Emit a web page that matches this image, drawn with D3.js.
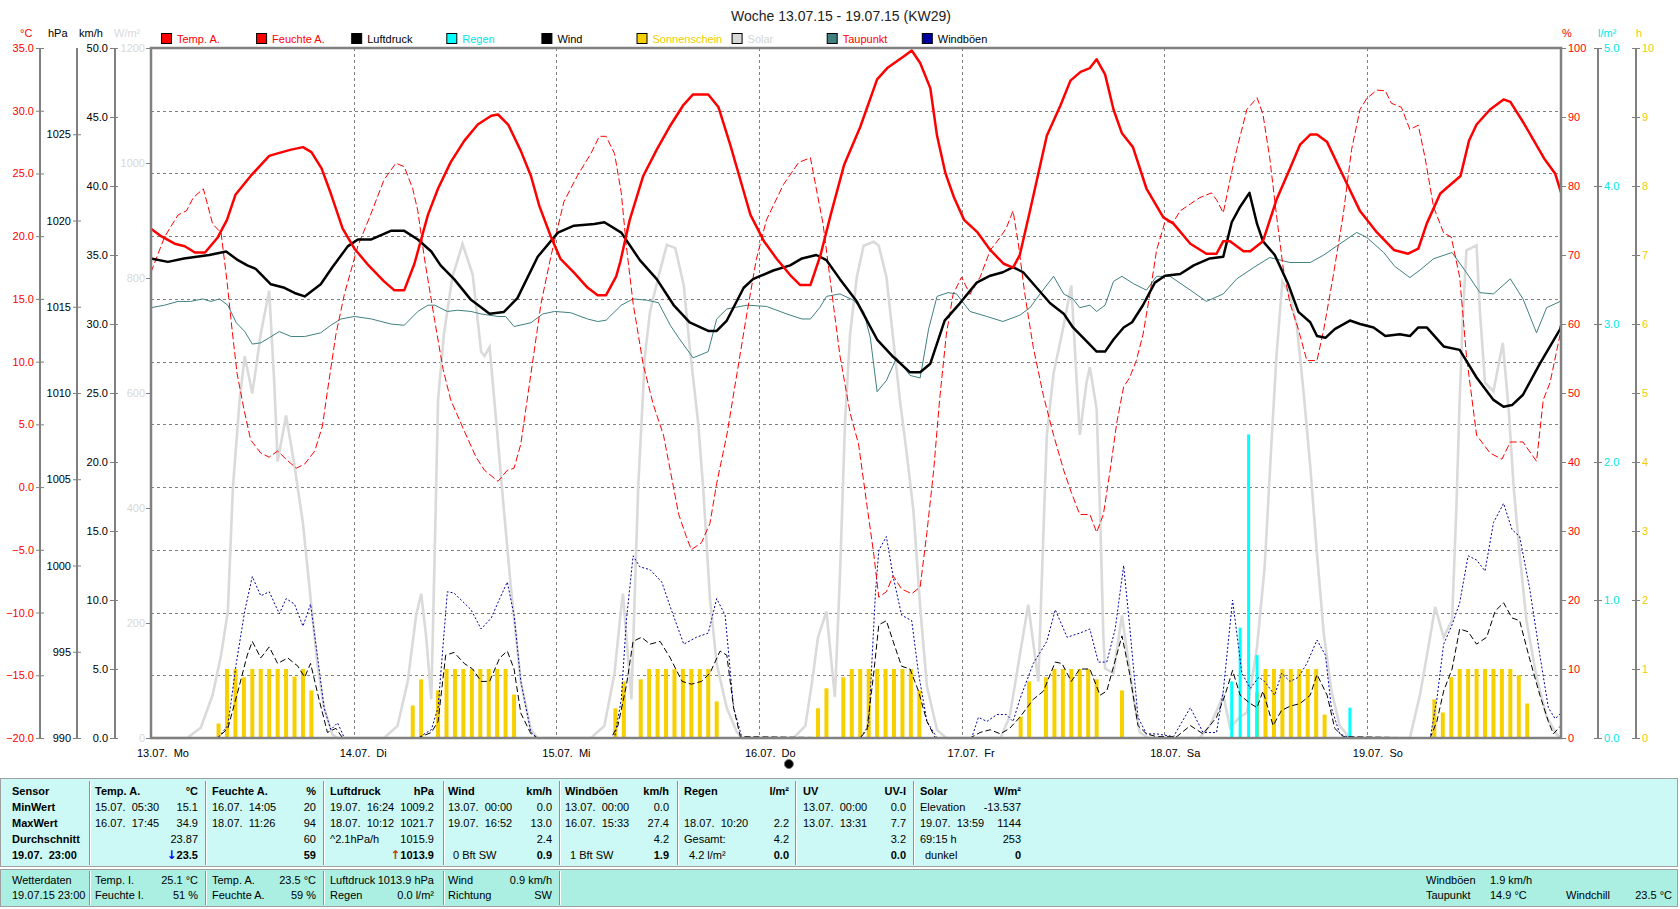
<!DOCTYPE html>
<meta charset="utf-8">
<script src="https://d3js.org/d3.v7.min.js"></script>
<style>
  body { margin: 0; background: #fff; }
  svg text { font-family: "Liberation Sans", Arial, sans-serif; font-size: 11px; }
</style>
<svg id="chart" width="1680" height="909"></svg>
<script>

// time = hours since 13.07.15 00:00
var temp = [[0,20.6],[1.2,20.0],[2.8,19.4],[4.0,19.2],[5.2,18.7],[6.4,18.7],[7.9,19.9],[9.0,21.3],[10.0,23.3],[11.8,24.8],[14.0,26.4],[15.0,26.6],[16.6,26.9],[18.0,27.1],[19.0,26.7],[20.2,25.4],[21.3,23.4],[22.7,20.6],[24.1,19.0],[25.6,17.8],[27.6,16.4],[28.8,15.7],[30.0,15.7],[31.2,17.8],[32.8,21.7],[34.0,23.8],[35.5,25.9],[37.1,27.6],[38.7,28.9],[40.3,29.6],[41.1,29.7],[42.3,28.9],[43.8,26.8],[45.0,24.8],[46.0,22.4],[47.4,19.9],[48.5,18.2],[50.1,17.1],[51.7,15.9],[52.9,15.3],[53.9,15.3],[55.1,16.8],[55.6,18.0],[56.7,21.3],[58.3,24.8],[59.9,26.9],[61.4,28.7],[63.0,30.4],[64.2,31.3],[66.0,31.3],[67.2,30.3],[68.6,27.3],[69.8,24.5],[71.0,21.7],[72.6,19.6],[74.1,18.2],[75.7,16.9],[76.9,16.1],[78.1,16.1],[79.3,18.5],[80.5,21.7],[82.1,25.7],[84.0,28.7],[86.0,32.5],[87.2,33.4],[89.1,34.3],[90.1,34.8],[91.1,33.8],[92.3,31.8],[93.1,28.0],[94.1,25.0],[95.1,23.1],[96.3,21.3],[97.9,20.3],[99.4,18.9],[101.0,17.8],[102.1,17.5],[102.9,18.5],[104.1,22.0],[106.1,28.0],[107.7,30.4],[108.9,32.4],[110.1,33.1],[111.2,33.4],[112.0,34.1],[113.0,32.9],[114.0,30.1],[115.0,28.2],[116.3,27.1],[117.9,23.8],[119.9,21.5],[121.1,21.0],[123.1,19.4],[125.0,18.6],[126.2,18.6],[127.0,19.6],[127.8,19.6],[129.4,18.8],[130.2,18.8],[131.7,19.6],[133.3,22.9],[134.9,25.4],[136.1,27.3],[137.3,28.1],[138.1,28.1],[139.3,27.5],[141.7,24.1],[143.2,22.0],[145.2,20.3],[147.2,18.9],[148.9,18.6],[150.1,19.0],[151.1,21.0],[152.7,23.4],[155.1,24.8],[156.1,27.6],[157.0,28.9],[158.6,30.1],[160.2,30.9],[161.0,30.7],[162.6,29.0],[165.0,26.2],[166.3,25.0],[167,23.5]];

var humidity = [[0,67.5],[1.6,72.6],[3.2,75.8],[4.2,76.4],[5.0,78.3],[6.2,79.6],[7.3,74.5],[8.3,73.2],[9.0,66.2],[9.6,59.2],[10.2,52.8],[11.0,47.7],[11.8,43.2],[13.0,41.3],[14.0,40.7],[15.0,41.6],[16.0,40.4],[17.2,39.1],[18.2,39.7],[19.4,41.6],[20.3,45.2],[20.9,50.3],[21.9,58.5],[22.9,64.3],[24.5,71.3],[26.0,75.8],[27.6,80.9],[29.0,83.3],[30.0,82.8],[31.0,79.6],[31.6,76.4],[32.4,69.4],[33.6,60.5],[34.6,53.4],[35.5,49.0],[37.1,44.5],[38.5,40.7],[39.5,38.8],[41.1,37.2],[42.2,38.8],[43.0,39.1],[43.8,42.6],[45.0,52.8],[46.2,63.0],[47.4,70.0],[48.9,77.7],[50.5,81.5],[52.1,84.7],[53.1,87.2],[53.9,87.2],[54.9,84.7],[55.7,79.0],[56.3,71.3],[57.1,63.0],[58.3,54.1],[59.5,48.3],[60.7,43.9],[61.5,38.8],[62.5,32.4],[63.4,29.2],[64.0,27.3],[65.2,28.3],[66.2,31.1],[67.0,36.9],[68.2,43.9],[69.4,52.8],[70.6,61.7],[71.7,69.4],[72.9,75.1],[74.9,80.2],[76.7,83.4],[78.1,84.1],[78.8,79.6],[79.6,74.5],[80.4,66.8],[81.6,55.4],[82.8,47.1],[83.8,42.6],[84.8,33.7],[85.6,26.7],[86.2,20.4],[87.1,21.2],[87.9,23.5],[88.9,21.6],[90.1,20.9],[91.1,21.9],[91.9,29.8],[92.7,38.8],[93.4,49.0],[94.2,58.5],[95.0,64.3],[96.0,66.8],[97.0,64.3],[98.2,66.8],[99.4,70.7],[100.6,72.6],[101.3,73.9],[102.1,76.4],[102.7,71.9],[103.5,64.3],[104.5,56.6],[105.7,49.6],[106.9,43.9],[108.1,38.8],[109.0,35.6],[110.0,32.4],[111.2,32.4],[112.0,29.8],[112.8,32.4],[113.6,38.8],[114.4,45.8],[115.2,50.9],[115.9,52.2],[116.7,54.7],[117.5,58.5],[118.3,64.3],[119.1,70.7],[120.1,74.8],[121.1,74.8],[121.9,76.4],[123.1,77.4],[124.2,78.3],[125.6,79.0],[126.2,78.0],[127.0,76.1],[127.8,80.9],[128.6,85.3],[129.8,91.1],[131.0,92.8],[131.7,90.4],[132.5,84.1],[133.3,75.8],[134.1,68.1],[134.9,63.0],[135.9,59.2],[136.9,54.7],[138.1,54.7],[138.9,59.2],[140.0,66.8],[141.2,75.8],[142.2,85.3],[143.2,91.1],[144.0,92.7],[145.2,93.9],[146.2,93.8],[146.9,92.0],[148.1,91.4],[149.1,88.2],[150.1,88.8],[150.9,84.1],[151.9,77.0],[153.1,73.2],[154.0,72.6],[155.0,66.8],[155.8,55.4],[157.0,43.9],[158.6,41.3],[160.0,40.4],[161.0,42.9],[162.5,42.9],[164.1,40.1],[164.9,49.0],[165.7,51.5],[166.9,58.5],[167,59]];

var pressure = [[0,1017.8],[2.0,1017.6],[3.9,1017.8],[6.9,1018.0],[8.9,1018.2],[10.3,1017.7],[11.4,1017.4],[12.4,1017.2],[14.2,1016.3],[15.8,1016.1],[17.0,1015.8],[18.2,1015.6],[20.1,1016.3],[21.5,1017.3],[23.3,1018.5],[24.5,1018.9],[26.1,1018.9],[28.4,1019.4],[30.0,1019.4],[31.6,1018.9],[33.2,1018.2],[34.3,1017.4],[35.9,1016.6],[37.9,1015.4],[40.1,1014.6],[41.8,1014.7],[43.4,1015.5],[45.8,1017.9],[48.2,1019.3],[50.1,1019.7],[52.5,1019.8],[53.7,1019.9],[55.7,1019.3],[57.9,1017.7],[59.9,1016.6],[61.9,1015.1],[63.8,1014.1],[66.0,1013.6],[67.0,1013.6],[68.2,1014.2],[70.2,1016.1],[71.3,1016.6],[73.7,1017.1],[75.7,1017.4],[77.1,1017.8],[78.8,1018.0],[80.0,1017.7],[81.6,1016.6],[83.6,1015.3],[84.8,1014.2],[86.0,1013.1],[87.9,1012.1],[89.9,1011.2],[91.1,1011.2],[92.3,1011.7],[94.0,1014.2],[95.8,1015.2],[97.8,1016.4],[99.4,1016.8],[100.9,1017.0],[102.1,1017.3],[103.3,1017.0],[104.9,1016.1],[106.5,1015.2],[108.1,1014.6],[109.2,1013.8],[111.2,1012.8],[112.0,1012.4],[113.0,1012.4],[114.0,1013.1],[115.2,1013.8],[116.2,1014.1],[117.5,1015.1],[118.9,1016.4],[120.1,1016.8],[121.9,1016.9],[123.5,1017.4],[125.4,1017.8],[127.0,1017.9],[128.0,1019.9],[129.0,1020.8],[130.1,1021.6],[131.0,1019.8],[131.7,1018.8],[133.1,1018.0],[134.7,1016.3],[135.9,1014.7],[137.3,1014.1],[138.1,1013.3],[139.1,1013.2],[140.2,1013.7],[142.0,1014.2],[143.2,1014.0],[144.8,1013.8],[146.2,1013.3],[147.9,1013.4],[149.1,1013.3],[150.1,1013.8],[151.1,1013.8],[153.1,1012.7],[155.0,1012.5],[157.0,1010.9],[159.0,1009.6],[160.2,1009.2],[161.2,1009.3],[162.5,1009.9],[164.5,1011.7],[166.9,1013.7],[167,1013.9]];

var dewpoint = [[0,14.3],[1.6,14.5],[3.2,14.8],[4.7,14.8],[6.1,15.0],[7.1,14.8],[8.1,15.0],[9.1,14.5],[10.1,13.1],[11.1,12.4],[12.0,11.4],[13.0,11.5],[14.0,11.9],[15.2,12.4],[16.6,12.0],[18.2,12.0],[20.1,12.3],[21.3,12.9],[22.5,13.4],[24.1,13.6],[26.1,13.4],[28.4,13.0],[30.0,12.9],[31.6,14.0],[32.8,14.5],[33.6,14.5],[35.1,14.0],[36.3,14.1],[37.9,14.0],[39.1,13.8],[41.1,13.6],[42.0,13.6],[43.0,12.8],[45.0,13.1],[46.4,13.8],[47.8,14.0],[49.7,13.9],[51.7,13.4],[52.9,13.2],[53.9,13.3],[55.7,14.5],[57.1,15.0],[58.7,14.9],[60.1,14.7],[61.5,12.9],[62.5,11.9],[64.2,10.3],[66.0,10.8],[67.0,13.4],[68.2,14.2],[70.6,14.5],[72.9,14.4],[75.3,13.8],[77.1,13.4],[78.1,13.4],[79.2,14.3],[80.0,15.2],[81.6,15.4],[83.2,14.9],[84.4,14.0],[85.2,11.9],[86.0,7.6],[87.1,8.5],[88.3,10.3],[89.9,8.9],[91.1,8.7],[92.1,12.6],[93.1,15.2],[94.4,15.5],[95.4,15.4],[97.0,14.0],[99.0,13.6],[100.9,13.2],[102.9,13.7],[104.1,14.3],[105.3,15.4],[106.9,16.8],[108.1,15.4],[109.2,15.0],[110.0,14.3],[111.2,14.5],[112.0,14.0],[113.0,14.5],[114.0,16.4],[115.0,16.8],[116.4,16.2],[117.9,15.7],[119.1,16.8],[120.7,16.8],[123.1,15.7],[125.0,14.8],[127.0,15.4],[128.6,16.6],[130.6,17.5],[132.5,18.3],[134.9,17.9],[137.3,17.9],[138.9,18.5],[140.4,19.2],[142.8,20.3],[144.0,19.9],[146.0,18.7],[147.3,17.6],[149.1,16.7],[150.3,17.3],[151.9,18.2],[154.1,18.7],[155.8,17.1],[157.4,15.5],[159.0,15.4],[161.0,16.6],[162.5,15.0],[164.1,12.3],[165.3,14.3],[166.9,14.8],[167,14.9]];

var solar = [[0,0],[4.3,0],[5.9,18],[7.3,75],[8.3,144],[9.1,220],[9.7,435],[10.5,588],[11.1,664],[12.0,599],[13.0,703],[14.0,778],[14.6,618],[15.0,481],[16.0,561],[17.0,473],[18.0,373],[18.9,243],[19.7,129],[20.5,52],[21.5,6],[22.1,0],[27.6,0],[29.2,21],[30.4,98],[31.4,213],[32.0,251],[32.6,175],[33.2,67],[33.6,320],[34.0,588],[34.7,703],[35.7,802],[36.9,859],[38.1,806],[39.1,672],[39.5,664],[40.1,680],[40.9,549],[41.8,396],[42.6,266],[43.8,98],[45.0,14],[45.8,0],[52.1,0],[53.7,21],[54.9,113],[55.7,228],[55.9,251],[56.9,67],[57.7,435],[58.5,664],[59.1,741],[60.1,802],[61.1,858],[62.1,852],[63.1,787],[63.8,680],[64.8,549],[65.4,435],[66.2,243],[67.0,129],[68.2,52],[69.4,10],[70.0,0],[76.1,0],[77.5,21],[78.3,98],[79.0,175],[80.0,220],[81.0,71],[81.6,282],[82.2,549],[82.8,703],[83.6,802],[84.4,856],[85.6,863],[86.2,856],[87.1,802],[87.9,695],[88.7,588],[89.5,496],[90.3,396],[91.1,228],[91.9,90],[93.1,14],[94.2,0],[100.6,0],[101.7,37],[102.9,144],[103.9,232],[105.1,98],[105.7,358],[106.1,527],[106.9,634],[108.1,718],[109.0,787],[110.0,527],[110.8,618],[111.2,645],[112.0,572],[112.4,396],[112.8,175],[113.0,121],[114.0,113],[115.0,213],[116.4,67],[117.1,10],[118.1,0],[124.2,0],[125.4,21],[126.6,60],[127.0,75],[127.8,18],[129.0,37],[129.8,44],[131.0,159],[131.9,297],[132.7,511],[133.3,664],[134.0,794],[134.9,771],[135.7,718],[136.5,603],[137.3,473],[138.1,320],[138.9,182],[139.8,83],[140.8,21],[142.0,0],[149.1,0],[150.3,75],[151.3,159],[152.1,228],[153.1,175],[154.1,205],[154.6,396],[155.0,588],[155.4,741],[155.8,848],[157.0,857],[157.4,741],[158.0,618],[159.0,603],[160.1,687],[160.8,572],[161.4,435],[162.1,320],[162.9,205],[164.1,106],[165.3,37],[166.5,6],[167,0]];

var wind = [[0,0],[7.9,0],[9.1,0.7],[10.3,3.4],[11.4,6.0],[12.0,7.0],[13.0,5.8],[14.0,6.6],[15.0,5.4],[16.2,5.8],[17.4,5.2],[18.2,4.4],[18.9,5.4],[19.9,2.8],[20.9,0.4],[21.9,0.7],[22.7,0],[31.6,0],[33.2,0.4],[34.0,1.2],[34.9,6.0],[35.9,6.2],[37.1,5.4],[38.1,5.0],[39.1,4.1],[40.1,4.1],[41.3,5.8],[42.2,6.3],[43.0,5.0],[43.8,1.8],[45.0,0.3],[45.8,0],[54.5,0],[55.3,0.9],[56.3,3.8],[57.1,7.0],[58.1,7.3],[59.1,6.8],[60.3,7.0],[61.5,5.8],[62.9,4.1],[64.0,3.9],[65.2,4.1],[66.2,4.7],[67.4,6.3],[68.2,6.0],[69.0,2.2],[69.8,0.1],[84.0,0],[84.8,0.6],[85.6,4.7],[86.2,8.2],[87.1,8.5],[87.9,7.0],[88.9,5.2],[89.9,5.0],[90.9,3.4],[91.9,1.2],[92.9,0],[97.0,0],[98.2,0.4],[99.4,0.6],[100.6,0.3],[101.7,0.7],[102.9,1.5],[104.5,2.8],[105.7,3.4],[107.1,5.5],[107.9,5.4],[109.0,4.1],[110.0,5.0],[111.2,5.0],[112.4,3.1],[113.2,3.4],[115.0,7.4],[115.9,4.7],[116.9,0.9],[117.9,0.3],[119.1,0.1],[121.5,0.1],[123.1,0.9],[124.6,0.3],[126.2,1.5],[127.2,3.1],[128.1,4.9],[129.0,3.1],[130.2,2.5],[131.0,2.2],[131.7,3.4],[132.9,0.9],[133.9,2.0],[134.9,2.3],[136.1,2.5],[137.3,3.1],[138.1,4.6],[139.3,3.1],[140.2,0.7],[141.2,0.1],[151.5,0],[152.3,1.2],[153.1,3.4],[154.1,5.0],[155.0,7.9],[156.0,7.7],[157.0,6.8],[158.2,7.3],[159.2,9.2],[160.2,9.8],[161.2,8.7],[162.1,8.5],[163.3,5.7],[164.5,3.1],[165.5,1.2],[166.1,0.3],[167,0.9]];

var gusts = [[0,0],[7.9,0],[9.1,0.9],[10.1,5.4],[11.1,9.2],[12.0,11.7],[13.0,10.3],[14.0,10.6],[15.2,9.0],[16.0,10.1],[17.0,9.7],[18.0,8.1],[18.9,9.7],[19.7,6.0],[20.5,2.2],[21.3,0.6],[22.1,1.1],[22.9,0],[31.6,0],[33.2,0.6],[34.0,2.2],[35.1,10.6],[35.9,10.5],[37.9,9.3],[39.1,7.9],[40.3,8.7],[41.3,10.1],[42.2,11.3],[43.0,8.9],[43.8,4.1],[45.0,0.4],[45.8,0],[54.9,0],[55.7,2.8],[56.3,8.5],[57.1,13.2],[57.9,12.4],[59.1,12.2],[60.5,11.3],[61.5,9.5],[63.1,6.8],[64.6,7.3],[66.0,7.6],[67.0,10.1],[68.0,8.9],[69.0,2.2],[70.0,0],[84.0,0],[85.0,0.9],[85.8,10.5],[86.2,13.6],[87.1,14.6],[87.9,11.7],[88.9,8.9],[90.1,8.5],[90.9,4.7],[91.9,1.2],[93.1,0],[97.2,0],[98.0,1.5],[99.0,1.2],[100.2,1.7],[101.3,1.7],[102.1,1.2],[102.9,2.8],[104.5,5.4],[106.1,7.0],[107.1,9.3],[108.5,7.3],[110.0,7.6],[111.2,7.9],[112.2,5.5],[113.2,5.5],[114.2,7.9],[115.2,12.5],[115.9,8.2],[116.9,1.5],[117.9,0.3],[119.1,0.3],[121.1,0.1],[123.1,2.2],[124.6,0.4],[126.2,0.4],[127.0,3.4],[128.1,10.0],[129.2,4.7],[130.2,3.6],[131.2,4.4],[131.9,4.1],[133.1,3.1],[133.9,4.7],[134.9,4.1],[135.9,4.4],[136.9,5.4],[138.1,7.1],[139.1,6.0],[139.8,2.2],[140.8,0.3],[142.0,0],[151.5,0],[152.3,2.8],[153.1,6.8],[154.1,8.2],[155.0,9.8],[156.0,13.2],[157.0,12.9],[158.0,12.1],[159.0,15.6],[160.2,17.0],[161.2,15.1],[162.1,14.6],[163.3,10.8],[164.5,6.0],[165.5,2.2],[166.3,1.4],[167,1.8]];

// hourly sunshine duration (h) and rain (l/m2)
var sunshine = [[8,0.21],[9,1],[10,1],[11,0.88],[12,1],[13,1],[14,1],[15,1],[16,1],[17,0.89],[18,1],[19,0.69],
  [31,0.47],[32,0.85],[34,0.69],[35,1],[36,1],[37,1],[38,1],[39,1],[40,1],[41,1],[42,1],[43,0.63],
  [55,0.43],[56,0.82],[58,0.85],[59,1],[60,1],[61,1],[62,1],[63,1],[64,1],[65,1],[66,1],[67,0.53],
  [79,0.43],[80,0.72],[82,0.88],[83,1],[84,1],[85,1],[86,1],[87,1],[88,1],[89,1],[90,1],[91,0.69],
  [103,0.31],[104,0.82],[106,0.88],[107,1],[108,1],[109,1],[110,1],[111,1],[112,0.85],[115,0.69],
  [131,0.66],[132,1],[133,1],[134,1],[135,1],[136,1],[137,1],[138,1],[139,0.34],
  [152,0.56],[153,0.37],[154,0.88],[155,1],[156,1],[157,1],[158,1],[159,1],[160,1],[161,1],[162,0.91],[163,0.5]];
var rain = [[128,0.41],[129,0.8],[130,2.2],[131,0.6],[142,0.22]];

var dayLabels = ["13.07.  Mo","14.07.  Di","15.07.  Mi","16.07.  Do","17.07.  Fr","18.07.  Sa","19.07.  So"];

var legendNames = ["Temp. A.","Feuchte A.","Luftdruck","Regen","Wind","Sonnenschein","Solar","Taupunkt","Windböen"];
var legendBox = ["#ff0000","#ff0000","#000000","#00ffff","#000000","#f5d000","#d8d8d8","#408080","#0000a0"];
var legendText = ["#ff0000","#ff0000","#000000","#00e8e8","#000000","#f0cc00","#d4d4d4","#ff0000","#000000"];

// table texts
var sensorRows = ["Sensor","MinWert","MaxWert","Durchschnitt","19.07.  23:00"];
var tableCols = [
  {l:95,  r:198,  rows:[["Temp. A.","°C"],["15.07.  05:30","15.1"],["16.07.  17:45","34.9"],["","23.87"],["","23.5"]], arrow:"↓", arrowColor:"#0000ff"},
  {l:212, r:316,  rows:[["Feuchte A.","%"],["16.07.  14:05","20"],["18.07.  11:26","94"],["","60"],["","59"]]},
  {l:330, r:434,  rows:[["Luftdruck","hPa"],["19.07.  16:24","1009.2"],["18.07.  10:12","1021.7"],["^2.1hPa/h","1015.9"],["","1013.9"]], arrow:"↑", arrowColor:"#c04000"},
  {l:448, r:552,  rows:[["Wind","km/h"],["13.07.  00:00","0.0"],["19.07.  16:52","13.0"],["","2.4"],["0 Bft SW","0.9"]]},
  {l:565, r:669,  rows:[["Windböen","km/h"],["13.07.  00:00","0.0"],["16.07.  15:33","27.4"],["","4.2"],["1 Bft SW","1.9"]]},
  {l:684, r:789,  rows:[["Regen","l/m²"],["",""],["18.07.  10:20","2.2"],["Gesamt:","4.2"],["4.2 l/m²","0.0"]]},
  {l:803, r:906,  rows:[["UV","UV-I"],["13.07.  00:00","0.0"],["13.07.  13:31","7.7"],["","3.2"],["","0.0"]]},
  {l:920, r:1021, rows:[["Solar","W/m²"],["Elevation","-13.537"],["19.07.  13:59","1144"],["69:15 h","253"],["dunkel","0"]]}
];
var currentCols = [
  {l:95,  r:198, rows:[["Temp. I.","25.1 °C"],["Feuchte I.","51 %"]]},
  {l:212, r:316, rows:[["Temp. A.","23.5 °C"],["Feuchte A.","59 %"]]},
  {l:330, r:434, rows:[["Luftdruck","1013.9 hPa"],["Regen","0.0 l/m²"]]},
  {l:448, r:552, rows:[["Wind","0.9 km/h"],["Richtung","SW"]]}
];

var svg = d3.select("#chart");
var pL = 151, pR = 1561, pT = 48, pB = 738;

var x = d3.scaleLinear().domain([0, 167]).range([pL, pR]);
var yT = d3.scaleLinear().domain([-20, 35]).range([pB, pT]);
var yH = d3.scaleLinear().domain([0, 100]).range([pB, pT]);
var yP = d3.scaleLinear().domain([990, 1030]).range([pB, pT]);
var yW = d3.scaleLinear().domain([0, 50]).range([pB, pT]);
var yS = d3.scaleLinear().domain([0, 1200]).range([pB, pT]);
var yR = d3.scaleLinear().domain([0, 5]).range([pB, pT]);
var yh = d3.scaleLinear().domain([0, 10]).range([pB, pT]);

// title
svg.append("text").attr("x", 841).attr("y", 21).attr("text-anchor", "middle")
  .style("font-size", "14px").attr("fill", "#222")
  .text("Woche 13.07.15 - 19.07.15 (KW29)");

// legend
var leg = svg.append("g");
legendNames.forEach(function(n, i) {
  var lx = 161 + i * 95.1;
  leg.append("rect").attr("x", lx + 0.5).attr("y", 33.5).attr("width", 10).attr("height", 10)
    .attr("fill", legendBox[i]).attr("stroke", "#000");
  leg.append("text").attr("x", lx + 16).attr("y", 42.5).attr("fill", legendText[i]).text(n);
});

// unit labels
var units = [["°C", 20, "#ff0000"], ["hPa", 48, "#000"], ["km/h", 79, "#000"], ["W/m²", 114, "#d8d8d8"],
  ["%", 1562, "#ff0000"], ["l/m²", 1598, "#00e8e8"], ["h", 1636, "#f0cc00"]];
units.forEach(function(u) {
  svg.append("text").attr("x", u[1]).attr("y", 36.5).attr("fill", u[2]).text(u[0]);
});

// grid
var grid = svg.append("g").attr("stroke", "#808080").attr("stroke-dasharray", "3,3");
grid.selectAll("line.h").data(d3.range(-15, 35, 5)).enter().append("line")
  .attr("x1", pL).attr("x2", pR)
  .attr("y1", function(d) { return Math.round(yT(d)) + 0.5; }).attr("y2", function(d) { return Math.round(yT(d)) + 0.5; });
grid.selectAll("line.v").data(d3.range(24, 167, 24)).enter().append("line")
  .attr("y1", pT).attr("y2", pB)
  .attr("x1", function(d) { return Math.round(x(d)) + 0.5; }).attr("x2", function(d) { return Math.round(x(d)) + 0.5; });

// axes
function styleAxis(g, color) {
  g.select(".domain").remove();
  g.selectAll(".tick line").attr("stroke", "#808080");
  g.selectAll(".tick text").attr("fill", color);
}
function axisLine(px) {
  svg.append("line").attr("x1", px).attr("x2", px).attr("y1", pT).attr("y2", pB)
    .attr("stroke", "#808080").attr("stroke-width", 2);
}
axisLine(40); axisLine(77); axisLine(115); axisLine(1598); axisLine(1636);

svg.append("g").attr("transform", "translate(44,0)")
  .call(d3.axisLeft(yT).tickValues(d3.range(-20, 36, 5)).tickFormat(d3.format(".1f")).tickSize(8).tickPadding(2))
  .call(styleAxis, "#ff0000");
svg.append("g").attr("transform", "translate(81,0)")
  .call(d3.axisLeft(yP).tickValues(d3.range(990, 1026, 5)).tickFormat(d3.format("d")).tickSize(8).tickPadding(2))
  .call(styleAxis, "#000");
svg.append("g").attr("transform", "translate(118,0)")
  .call(d3.axisLeft(yW).tickValues(d3.range(0, 51, 5)).tickFormat(d3.format(".1f")).tickSize(8).tickPadding(2))
  .call(styleAxis, "#000");
svg.append("g").attr("transform", "translate(151,0)")
  .call(d3.axisLeft(yS).tickValues(d3.range(0, 1201, 200)).tickFormat(d3.format("d")).tickSize(5).tickPadding(1))
  .call(styleAxis, "#d8d8d8");
svg.append("g").attr("transform", "translate(1561,0)")
  .call(d3.axisRight(yH).tickValues(d3.range(0, 101, 10)).tickFormat(d3.format("d")).tickSize(5).tickPadding(2))
  .call(styleAxis, "#ff0000");
svg.append("g").attr("transform", "translate(1594,0)")
  .call(d3.axisRight(yR).tickValues(d3.range(0, 5.1, 1)).tickFormat(d3.format(".1f")).tickSize(8).tickPadding(2))
  .call(styleAxis, "#00e8e8");
svg.append("g").attr("transform", "translate(1632,0)")
  .call(d3.axisRight(yh).tickValues(d3.range(0, 11, 1)).tickFormat(d3.format("d")).tickSize(8).tickPadding(2))
  .call(styleAxis, "#f0cc00");

// series
function line(y) {
  return d3.line().x(function(d) { return x(d[0]); }).y(function(d) { return y(d[1]); });
}
var plot = svg.append("g");

plot.append("path").datum(solar).attr("d", line(yS))
  .attr("fill", "none").attr("stroke", "#dadada").attr("stroke-width", 2.6);

plot.selectAll("rect.sun").data(sunshine).enter().append("rect")
  .attr("x", function(d) { return x(d[0]) - 2; }).attr("width", 4)
  .attr("y", function(d) { return yh(d[1]); })
  .attr("height", function(d) { return yh(0) - yh(d[1]); })
  .attr("fill", "#f7d000");

plot.selectAll("rect.rain").data(rain).enter().append("rect")
  .attr("x", function(d) { return x(d[0]) - 1.5; }).attr("width", 3)
  .attr("y", function(d) { return yR(d[1]); })
  .attr("height", function(d) { return yR(0) - yR(d[1]); })
  .attr("fill", "#00ffff");

plot.append("path").datum(gusts).attr("d", line(yW))
  .attr("fill", "none").attr("stroke", "#0000a0").attr("stroke-width", 1).attr("stroke-dasharray", "2,2");
plot.append("path").datum(wind).attr("d", line(yW))
  .attr("fill", "none").attr("stroke", "#000").attr("stroke-width", 1).attr("stroke-dasharray", "6,3");
plot.append("path").datum(dewpoint).attr("d", line(yT))
  .attr("fill", "none").attr("stroke", "#408080").attr("stroke-width", 1);
plot.append("path").datum(humidity).attr("d", line(yH))
  .attr("fill", "none").attr("stroke", "#ff0000").attr("stroke-width", 1).attr("stroke-dasharray", "7,3");
plot.append("path").datum(pressure).attr("d", line(yP))
  .attr("fill", "none").attr("stroke", "#000").attr("stroke-width", 2.5).attr("stroke-linejoin", "round");
plot.append("path").datum(temp).attr("d", line(yT))
  .attr("fill", "none").attr("stroke", "#ff0000").attr("stroke-width", 2.5).attr("stroke-linejoin", "round");

// frame
svg.append("rect").attr("x", pL).attr("y", pT).attr("width", pR - pL).attr("height", pB - pT)
  .attr("fill", "none").attr("stroke", "#808080").attr("stroke-width", 2.5);

// day labels
svg.selectAll("text.day").data(dayLabels).enter().append("text")
  .attr("x", function(d, i) { return x(i * 24) - 14; }).attr("y", 757)
  .style("white-space", "pre").attr("fill", "#000").text(function(d) { return d; });
// new moon marker on 16.07.
svg.append("circle").attr("cx", x(72) + 30).attr("cy", 764).attr("r", 4.5)
  .attr("fill", "#000").attr("stroke", "#777");

// ---- table ----
var tab = svg.append("g");
tab.append("rect").attr("x", 0.5).attr("y", 778.5).attr("width", 1677).attr("height", 88)
  .attr("fill", "#ccf9f5").attr("stroke", "#a0a0a0");
tab.append("rect").attr("x", 0.5).attr("y", 869.5).attr("width", 1677).attr("height", 37)
  .attr("fill", "#aaefe2").attr("stroke", "#a0a0a0");

function sep(px, y1, y2) {
  tab.append("line").attr("x1", px).attr("x2", px).attr("y1", y1).attr("y2", y2).attr("stroke", "#909090");
  tab.append("line").attr("x1", px + 1).attr("x2", px + 1).attr("y1", y1).attr("y2", y2).attr("stroke", "#fff");
}
[89, 205, 323, 443, 559, 677, 795, 913].forEach(function(p) { sep(p + 0.5, 781, 865); });
[89, 205, 323, 443, 559].forEach(function(p) { sep(p + 0.5, 871, 905); });

var rowY = [795, 811, 827, 843, 859];
sensorRows.forEach(function(t, i) {
  tab.append("text").attr("x", 12).attr("y", rowY[i]).style("font-weight", "bold")
    .style("white-space", "pre").text(t);
});
tableCols.forEach(function(c) {
  c.rows.forEach(function(r, i) {
    var bold = (i === 0) ? "bold" : "normal";
    tab.append("text").attr("x", c.l + (i === 4 ? 5 : 0)).attr("y", rowY[i])
      .style("font-weight", bold).style("white-space", "pre").text(r[0]);
    var t = tab.append("text").attr("x", c.r).attr("y", rowY[i]).attr("text-anchor", "end")
      .style("font-weight", (i === 0 || i === 4) ? "bold" : "normal");
    if (i === 4 && c.arrow) {
      t.append("tspan").attr("fill", c.arrowColor)
        .style("font-family", "'DejaVu Sans', sans-serif").style("font-size", "12px").text(c.arrow);
    }
    t.append("tspan").text(r[1]);
  });
});

var curY = [884, 899];
tab.append("text").attr("x", 12).attr("y", curY[0]).text("Wetterdaten");
tab.append("text").attr("x", 12).attr("y", curY[1]).text("19.07.15 23:00");
currentCols.forEach(function(c) {
  c.rows.forEach(function(r, i) {
    tab.append("text").attr("x", c.l).attr("y", curY[i]).text(r[0]);
    tab.append("text").attr("x", c.r).attr("y", curY[i]).attr("text-anchor", "end").text(r[1]);
  });
});
tab.append("text").attr("x", 1426).attr("y", curY[0]).text("Windböen");
tab.append("text").attr("x", 1490).attr("y", curY[0]).text("1.9 km/h");
tab.append("text").attr("x", 1426).attr("y", curY[1]).text("Taupunkt");
tab.append("text").attr("x", 1490).attr("y", curY[1]).text("14.9 °C");
tab.append("text").attr("x", 1566).attr("y", curY[1]).text("Windchill");
tab.append("text").attr("x", 1672).attr("y", curY[1]).attr("text-anchor", "end").text("23.5 °C");

</script>
